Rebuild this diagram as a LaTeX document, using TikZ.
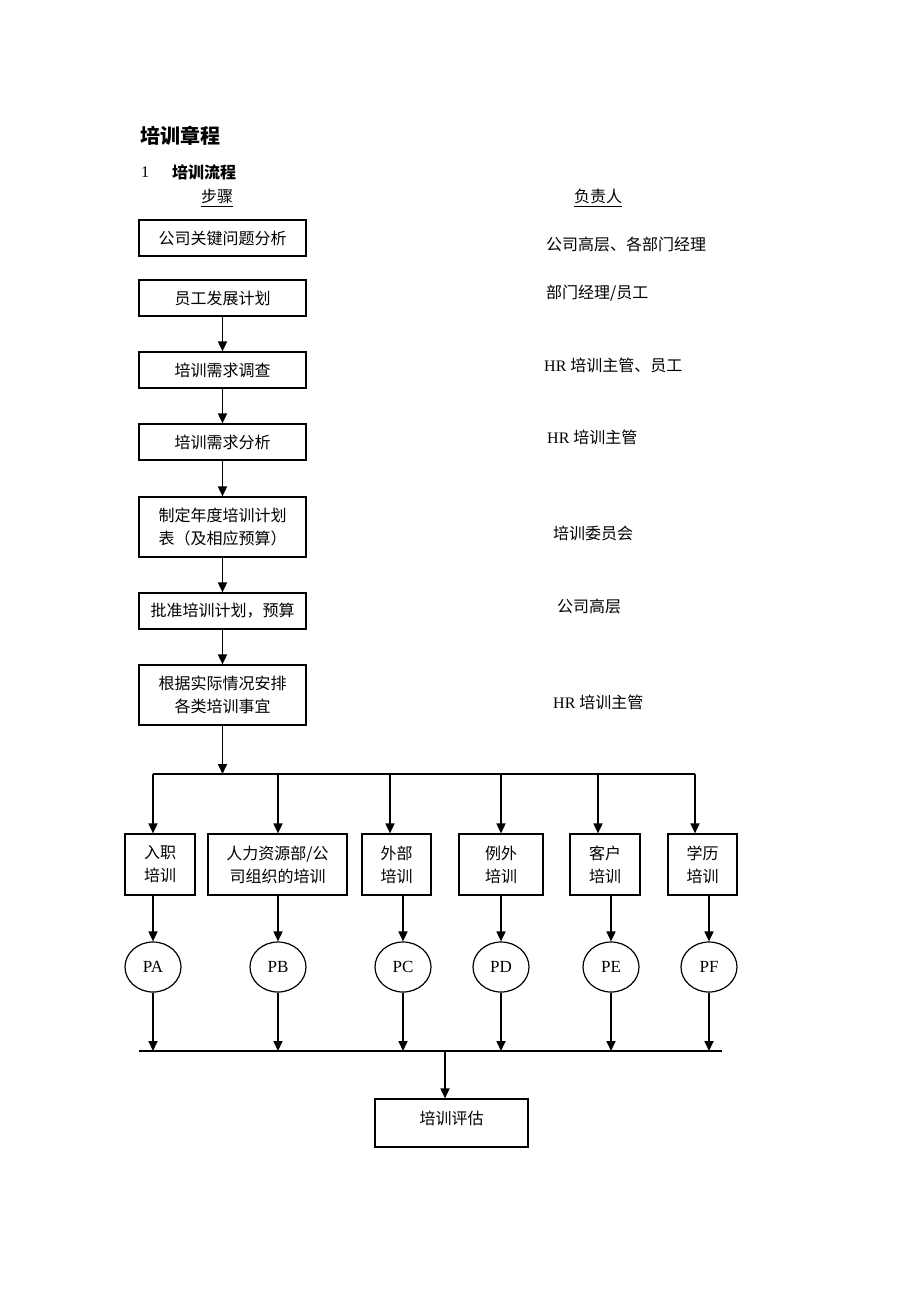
\documentclass[tikz,border=0pt]{standalone}
\usepackage{fontspec}
\setmainfont{Liberation Serif}
\newfontfamily\cjk{Noto Sans CJK SC}
\usepackage{tikz}
\usetikzlibrary{arrows.meta, positioning, shapes.geometric}
\tikzset{
  stepbox/.style={draw, line width=1.2pt, align=center, inner sep=0pt,
    font=\cjk\fontsize{16}{23}\selectfont},
  arr/.style={-{Triangle[length=10pt, width=9pt]}, line width=1.7pt},
  bus/.style={line width=1.7pt},
  resp/.style={anchor=west, inner sep=0pt, font=\fontsize{16}{20}\selectfont},
  pnode/.style={draw, ellipse, line width=1.2pt, minimum width=56pt, minimum height=50pt,
    inner sep=0pt, font=\fontsize{17}{20}\selectfont},
}

\begin{document}
\begin{tikzpicture}[x=1pt, y=-1pt]
  \fill[white] (0, 0) rectangle (920, 1302);
  \useasboundingbox (0, 0) rectangle (920, 1302);

  % heading
  \node[anchor=west, inner sep=0pt, font=\cjk\bfseries\fontsize{20}{24}\selectfont] (title) at (140, 136) {培训章程};
  \node[anchor=west, inner sep=0pt, font=\fontsize{16}{20}\selectfont] (num) at (141, 172) {1};
  \node[anchor=west, inner sep=0pt, font=\cjk\bfseries\fontsize{16}{20}\selectfont] (sub) at (172, 172) {培训流程};
  \node[inner sep=0pt, font=\cjk\fontsize{16}{20}\selectfont] (hstep) at (217, 196) {步骤};
  \node[inner sep=0pt, font=\cjk\fontsize{16}{20}\selectfont] (hresp) at (598, 196) {负责人};
  \draw[line width=0.8pt] ([yshift=-3pt]hstep.south west) -- ([yshift=-3pt]hstep.south east);
  \draw[line width=0.8pt] ([yshift=-3pt]hresp.south west) -- ([yshift=-3pt]hresp.south east);

  % steps and who is responsible
  \foreach [count=\n] \y/\h/\t/\rx/\ry/\r in {
      238/36/{公司关键问题分析}/546/244/{\cjk 公司高层、各部门经理},
      298/36/{员工发展计划}/546/293/{\cjk 部门经理/员工},
      370/36/{培训需求调查}/544/365/{HR {\cjk 培训主管、员工}},
      442/36/{培训需求分析}/547/437/{HR {\cjk 培训主管}},
      527/60/{制定年度培训计划\\表（及相应预算）}/553/533/{\cjk 培训委员会},
      611/36/{批准培训计划，预算}/557/606/{\cjk 公司高层},
      695/60/{根据实际情况安排\\各类培训事宜}/553/702/{HR {\cjk 培训主管}}} {
    \node[stepbox, minimum width=167, minimum height=\h] (s\n) at (222.5, \y) {\t};
    \node[resp] (r\n) at (\rx, \ry) {\r};
  }
  \foreach \a/\b in {s2/s3, s3/s4, s4/s5, s5/s6, s6/s7}
    \draw[arr] (\a) -- (\b);

  % split into the kinds of training
  \coordinate (tl) at (153, 774);
  \coordinate (tr) at (695, 774);
  \draw[bus] (tl) -- (tr);
  \draw[arr] (s7.south) -- (s7.south |- tl);

  \coordinate (bl) at (139, 1051);
  \coordinate (br) at (722, 1051);
  \draw[bus] (bl) -- (br);

  \foreach [count=\n] \cx/\w/\ta/\tb/\t/\p in {
      160/70/153/153/{入职\\培训}/PA,
      277.5/139/278/278/{人力资源部/公\\司组织的培训}/PB,
      396.5/69/390/403/{外部\\培训}/PC,
      501/84/501/501/{例外\\培训}/PD,
      605/70/598/611/{客户\\培训}/PE,
      702.5/69/695/709/{学历\\培训}/PF} {
    \node[stepbox, minimum width=\w, minimum height=61] (k\n) at (\cx, 864.5) {\t};
    \coordinate (ka\n) at (\ta, 774);
    \draw[arr] (ka\n) -- (ka\n |- k\n.north);
    \node[pnode] (p\n) at (\tb, 967) {\p};
    \draw[arr] (p\n |- k\n.south) -- (p\n);
    \coordinate (kb\n) at (\tb, 1051);
    \draw[arr] (p\n) -- (kb\n);
  }

  % evaluation
  \node[stepbox, minimum width=153, minimum height=48, text height=12pt, text depth=10pt] (ev) at (451.5, 1123) {培训评估};
  \coordinate (em) at (445, 1051);
  \draw[arr] (em) -- (em |- ev.north);

\end{tikzpicture}
\end{document}
